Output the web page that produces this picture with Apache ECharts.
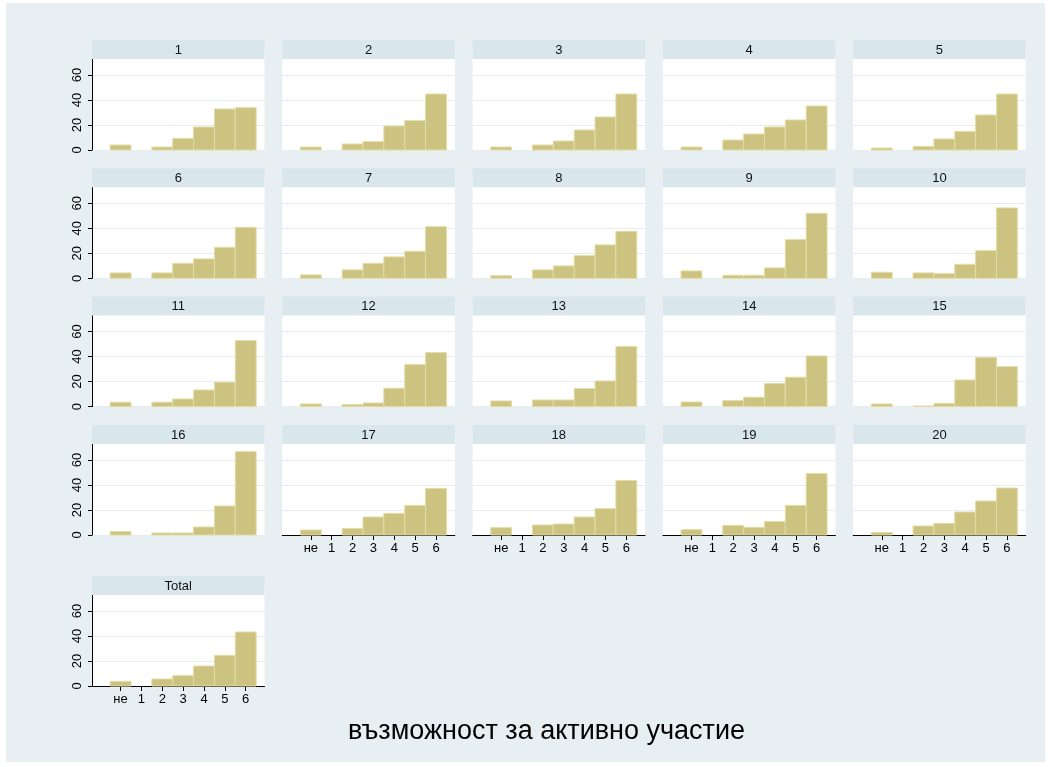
<!DOCTYPE html>
<html>
<head>
<meta charset="utf-8">
<script src="https://cdn.jsdelivr.net/npm/echarts@6/dist/echarts.min.js"></script>
<style>
html,body{margin:0;padding:0;background:#fff;}
#chart{width:1051px;height:767px;}
</style>
</head>
<body>
<div id="chart"></div>
<script>
// ---- data ----
const categories = ['не', '1', '2', '3', '4', '5', '6'];
const panelTitles = ['1','2','3','4','5','6','7','8','9','10','11','12','13','14','15','16','17','18','19','20','Total'];
const yTickValues = [0, 20, 40, 60];
const xTitle = 'възможност за активно участие';

const v1  = [4.0, 0, 2.4, 9.3, 18.4, 32.8, 33.9];
const v2  = [2.4, 0, 4.8, 6.7, 19.2, 23.5, 44.8];
const v3  = [2.4, 0, 4.0, 7.2, 16.0, 26.4, 44.8];
const v4  = [2.4, 0, 8.0, 12.8, 18.4, 24.0, 35.2];
const v5  = [1.6, 0, 2.9, 8.8, 14.9, 28.0, 44.8];
const v6  = [4.3, 0, 4.3, 12.0, 15.5, 24.8, 40.8];
const v7  = [2.7, 0, 6.7, 12.0, 17.1, 21.6, 41.3];
const v8  = [2.1, 0, 6.7, 9.9, 18.1, 26.7, 37.6];
const v9  = [5.9, 0, 2.4, 2.4, 8.3, 30.9, 52.0];
const v10 = [4.8, 0, 4.3, 3.7, 11.2, 22.1, 56.3];
const v11 = [3.5, 0, 3.5, 6.1, 13.3, 19.5, 52.8];
const v12 = [2.1, 0, 1.6, 2.9, 14.7, 33.6, 43.2];
const v13 = [4.5, 0, 5.3, 5.3, 14.4, 20.5, 48.0];
const v14 = [3.7, 0, 4.8, 7.5, 18.4, 23.5, 40.5];
const v15 = [2.1, 0, 0.5, 2.4, 21.3, 39.2, 32.0];
const v16 = [2.7, 0, 1.6, 1.6, 6.4, 23.2, 66.7];
const v17 = [4.0, 0, 5.3, 14.4, 17.3, 23.7, 37.3];
const v18 = [5.9, 0, 8.0, 8.8, 14.4, 21.1, 43.7];
const v19 = [4.3, 0, 7.7, 6.1, 10.9, 23.7, 49.3];
const v20 = [2.1, 0, 7.2, 9.3, 18.4, 27.2, 37.6];
const vTotal = [3.7, 0, 5.6, 8.3, 16.0, 24.5, 43.2];

const panelValues = [v1,v2,v3,v4,v5,v6,v7,v8,v9,v10,v11,v12,v13,v14,v15,v16,v17,v18,v19,v20,vTotal];

// ---- layout ----
const FONT = 'Liberation Sans, Arial, sans-serif';
const panelW = 172.5;
const colPitch = 190.3;
const firstLeft = 92;
const rowBaselines = [150, 278.3, 406.6, 535, 686];
const plotH = 100;      // height for 0..80
const headerH = 19;
const xAxisPanels = [16, 17, 18, 19, 20];

const grids = [], xAxes = [], yAxes = [], series = [], graphics = [];

// white outer margins
graphics.push({type:'rect', shape:{x:0,y:0,width:1051,height:3}, style:{fill:'#fff'}, z:200});
graphics.push({type:'rect', shape:{x:0,y:0,width:6,height:767}, style:{fill:'#fff'}, z:200});
graphics.push({type:'rect', shape:{x:1045,y:0,width:6,height:767}, style:{fill:'#fff'}, z:200});
graphics.push({type:'rect', shape:{x:0,y:762,width:1051,height:5}, style:{fill:'#fff'}, z:200});

panelValues.forEach((vals, i) => {
  const row = Math.floor(i / 5), col = i % 5;
  const left = firstLeft + col * colPitch;
  const base = rowBaselines[row];
  const top = base - plotH;
  grids.push({left: left, top: top, width: panelW, height: plotH,
    show: true, backgroundColor: '#ffffff', borderWidth: 0});
  const showX = xAxisPanels.indexOf(i) >= 0;
  xAxes.push({
    type: 'value', gridIndex: i, min: -1.37, max: 6.9,
    splitLine: {show: false},
    axisLine: {show: showX, onZero: false, lineStyle: {color: '#000', width: 1}},
    axisTick: {show: showX, length: 5, lineStyle: {color: '#000'},
      customValues: categories.map((c, k) => k)},
    axisLabel: {show: showX, margin: 7, fontSize: 13, fontFamily: FONT, color: '#000',
      customValues: categories.map((c, k) => k),
      formatter: v => categories[Math.round(v)]}
  });
  const showY = col === 0;
  yAxes.push({
    type: 'value', gridIndex: i, min: 0, max: 80, interval: 20,
    splitLine: {show: true, lineStyle: {color: '#e4edf0', width: 1}},
    axisLine: {show: showY, onZero: false, lineStyle: {color: '#000', width: 1}},
    axisTick: {show: showY, length: 4, lineStyle: {color: '#000'}},
    axisLabel: {show: showY, rotate: 90, margin: 8, fontSize: 13, fontFamily: FONT, color: '#000',
      showMaxLabel: false,
      formatter: v => (yTickValues.indexOf(v) >= 0 ? String(v) : '')}
  });
  series.push({
    type: 'custom', xAxisIndex: i, yAxisIndex: i,
    data: vals.map((v, k) => [k, v]).filter(d => d[1] > 0),
    renderItem: function (params, api) {
      const x = api.value(0), y = api.value(1);
      const p0 = api.coord([x - 0.5, y]);
      const p1 = api.coord([x + 0.5, 0]);
      return {type: 'rect',
        shape: {x: p0[0], y: p0[1], width: p1[0] - p0[0], height: p1[1] - p0[1]},
        style: {fill: '#ccc380', stroke: '#e3dca6', lineWidth: 1}};
    },
    silent: true
  });
  // header strip
  graphics.push({type: 'rect', shape: {x: left, y: base - 110, width: panelW, height: headerH},
    style: {fill: '#d9e6eb'}, z: 100});
  graphics.push({type: 'text', x: left + panelW / 2, y: base - 110 + headerH / 2 + 0.5,
    style: {text: panelTitles[i], fill: '#111', font: '13px ' + FONT, align: 'center', verticalAlign: 'middle'}, z: 101});
});

graphics.push({type: 'text', x: 546.5, y: 732,
  style: {text: xTitle, fill: '#000', font: '27px ' + FONT, align: 'center', verticalAlign: 'middle'}, z: 101});

const chart = echarts.init(document.getElementById('chart'), null, {renderer: 'canvas'});
chart.setOption({
  backgroundColor: '#e8eff2',
  animation: false,
  grid: grids,
  xAxis: xAxes,
  yAxis: yAxes,
  series: series,
  graphic: {elements: graphics}
});
</script>
</body>
</html>
